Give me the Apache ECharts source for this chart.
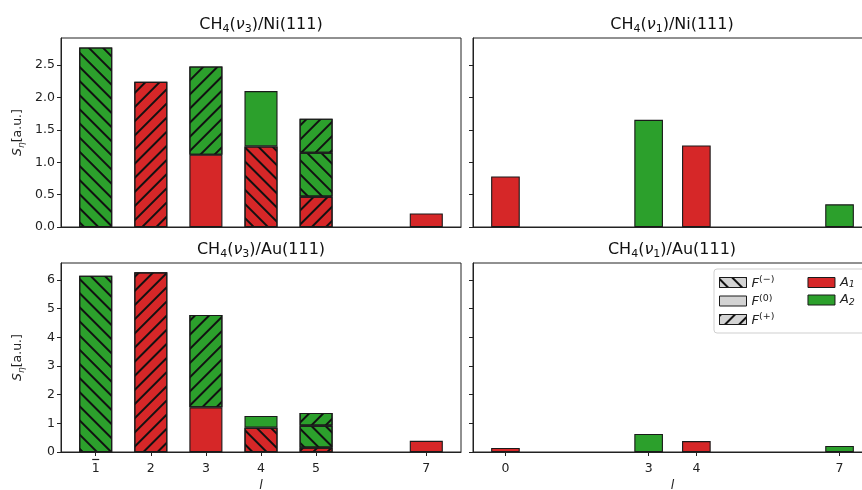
<!DOCTYPE html>
<html>
<head>
<meta charset="utf-8">
<script src="https://cdn.jsdelivr.net/npm/echarts@6/dist/echarts.min.js"></script>
<style>
  html, body { margin: 0; padding: 0; background: #fff; }
  #main { width: 862px; height: 490px; }
</style>
</head>
<body>
<div id="main"></div>
<script>
// x positions (l) and tick labels ('1bar' gets an overbar)
var lNu3 = [1, 2, 3, 4, 5, 7];
var lNu3Labels = ['1bar', '2', '3', '4', '5', '7'];
var lNu1 = [0, 3, 4, 7];
var lNu1Labels = ['0', '3', '4', '7'];

// CH4(v3)/Ni(111): segment heights, null = no bar
var niNu3A1Minus = [null, null, null, 1.245, null, null];
var niNu3A1Zero  = [null, null, 1.116, null, null, 0.21];
var niNu3A1Plus  = [null, 2.242, null, null, 0.468, null];
var niNu3A2Minus = [2.773, null, null, null, 0.679, null];
var niNu3A2Zero  = [null, null, null, 0.855, null, null];
var niNu3A2Plus  = [null, null, 1.364, null, 0.525, null];

// CH4(v1)/Ni(111)
var niNu1A1 = [0.78, null, 1.26, null];
var niNu1A2 = [null, 1.656, null, 0.35];

// CH4(v3)/Au(111)
var auNu3A1Minus = [null, null, null, 0.85, null, null];
var auNu3A1Zero  = [null, null, 1.56, null, null, 0.39];
var auNu3A1Plus  = [null, 6.27, null, null, 0.15, null];
var auNu3A2Minus = [6.15, null, null, null, 0.77, null];
var auNu3A2Zero  = [null, null, null, 0.41, null, null];
var auNu3A2Plus  = [null, null, 3.22, null, 0.44, null];

// CH4(v1)/Au(111)
var auNu1A1 = [0.14, null, 0.38, null];
var auNu1A2 = [null, 0.63, null, 0.21];

var yTicksTop = [0, 0.5, 1, 1.5, 2, 2.5];
var yTicksBottom = [0, 1, 2, 3, 4, 5, 6];

var RED = '#d62728', GREEN = '#2ca02c', GREY = '#d3d3d3';
var FONT = 'DejaVu Sans';

var myChart = echarts.init(document.getElementById('main'), null, { renderer: 'canvas' });

function hatch(dir) {
  if (!dir) return null;
  return {
    symbol: 'rect', symbolSize: 1,
    dashArrayX: [1, 0], dashArrayY: [1.2, 8],
    rotation: dir === '-' ? Math.PI / 4 : -Math.PI / 4,
    color: '#111'
  };
}

function bars(name, idx, xs, vals, color, dir, bw) {
  // value first so that ECharts stacks the y dimension (both axes are value axes)
  var d = xs.map(function (x, i) { return [vals[i] == null ? '-' : vals[i], x]; });
  var st = { color: color, borderColor: '#1a1a1a', borderWidth: 1.1 };
  var dc = hatch(dir);
  if (dc) st.decal = dc;
  return {
    name: name, type: 'bar', xAxisIndex: idx, yAxisIndex: idx,
    stack: 'g' + idx, barWidth: bw, data: d, itemStyle: st,
    encode: { x: 1, y: 0 },
    emphasis: { disabled: true }, animation: false
  };
}

// bar width = 0.6 in l units
var bwL = 0.6 * 400 / (7.63 - 0.37);
var bwR = 0.6 * 399 / (7.68 + 0.68);

var series = [
  bars('A1', 0, lNu3, niNu3A1Zero, RED, null, bwL),
  bars('A1-', 0, lNu3, niNu3A1Minus, RED, '-', bwL),
  bars('A1+', 0, lNu3, niNu3A1Plus, RED, '+', bwL),
  bars('A2-', 0, lNu3, niNu3A2Minus, GREEN, '-', bwL),
  bars('A2', 0, lNu3, niNu3A2Zero, GREEN, null, bwL),
  bars('A2+', 0, lNu3, niNu3A2Plus, GREEN, '+', bwL),
  bars('A1', 1, lNu1, niNu1A1, RED, null, bwR),
  bars('A2', 1, lNu1, niNu1A2, GREEN, null, bwR),
  bars('A1', 2, lNu3, auNu3A1Zero, RED, null, bwL),
  bars('A1-', 2, lNu3, auNu3A1Minus, RED, '-', bwL),
  bars('A1+', 2, lNu3, auNu3A1Plus, RED, '+', bwL),
  bars('A2-', 2, lNu3, auNu3A2Minus, GREEN, '-', bwL),
  bars('A2', 2, lNu3, auNu3A2Zero, GREEN, null, bwL),
  bars('A2+', 2, lNu3, auNu3A2Plus, GREEN, '+', bwL),
  bars('A1', 3, lNu1, auNu1A1, RED, null, bwR),
  bars('A2', 3, lNu1, auNu1A2, GREEN, null, bwR),
  // legend-only entries for the hatch key
  bars('F-', 3, [], [], GREY, '-', bwR),
  bars('F0', 3, [], [], GREY, null, bwR),
  bars('F+', 3, [], [], GREY, '+', bwR)
];

// right-hand panels run past the canvas edge, as in the original figure
var grids = [
  { left: 61, top: 38, width: 400, height: 189 },
  { left: 473, top: 38, width: 399, height: 189 },
  { left: 61, top: 263, width: 400, height: 189 },
  { left: 473, top: 263, width: 399, height: 189 }
].map(function (g) {
  g.show = true; g.borderColor = '#222'; g.borderWidth = 1; g.backgroundColor = '#fff';
  g.outerBoundsMode = 'none'; g.containLabel = false;
  return g;
});

function xAxis(idx, min, max, ticks, labels, bottom) {
  return {
    type: 'value', gridIndex: idx, min: min, max: max,
    splitLine: { show: false },
    axisLine: { show: true, onZero: false, lineStyle: { color: '#222', width: 1 } },
    axisTick: { show: bottom, customValues: ticks, length: 4, lineStyle: { color: '#222' } },
    axisLabel: {
      show: bottom, customValues: ticks, margin: 6,
      color: '#222', fontFamily: FONT, fontSize: 12.5,
      formatter: function (v) {
        var i = ticks.indexOf(v);
        if (i < 0) return '';
        var s = labels[i];
        if (s === '1bar') return '{o| }\n{n|1}';
        return '{z| }\n{n|' + s + '}';
      },
      rich: {
        o: { width: 7, height: 1.2, lineHeight: 3, fontSize: 1, backgroundColor: '#222', align: 'center' },
        z: { lineHeight: 3, fontSize: 1 },
        n: { fontFamily: FONT, fontSize: 12.5, color: '#222', lineHeight: 15 }
      }
    },
    name: bottom ? '{i|l}' : '', nameLocation: 'middle', nameGap: 27,
    nameTextStyle: { rich: { i: { fontFamily: FONT, fontStyle: 'italic', fontSize: 12.5, color: '#222' } } }
  };
}

function yAxis(idx, max, ticks, digits, showLabel) {
  return {
    type: 'value', gridIndex: idx, min: 0, max: max,
    splitLine: { show: false },
    axisLine: { show: true, onZero: false, lineStyle: { color: '#222', width: 1 } },
    axisTick: { show: true, customValues: ticks, length: 4, lineStyle: { color: '#222' } },
    axisLabel: {
      show: showLabel, customValues: ticks, margin: 6,
      color: '#222', fontFamily: FONT, fontSize: 12.5,
      formatter: function (v) { return v.toFixed(digits); }
    },
    name: showLabel ? '{i|S}{sub|\u03b7}{t|[a.u.]}' : '',
    nameLocation: 'middle', nameGap: 35, nameRotate: 90,
    nameTextStyle: {
      rich: {
        i: { fontFamily: FONT, fontStyle: 'italic', fontSize: 12.5, color: '#222', lineHeight: 16, verticalAlign: 'middle' },
        sub: { fontFamily: FONT, fontStyle: 'italic', fontSize: 9, color: '#222', lineHeight: 9, verticalAlign: 'bottom' },
        t: { fontFamily: FONT, fontSize: 12.5, color: '#222', lineHeight: 16, verticalAlign: 'middle' }
      }
    }
  };
}

var titleRich = {
  m: { fontFamily: FONT, fontSize: 16, color: '#111', lineHeight: 20, verticalAlign: 'middle' },
  g: { fontFamily: FONT, fontSize: 16, fontStyle: 'italic', color: '#111', lineHeight: 20, verticalAlign: 'middle' },
  s: { fontFamily: FONT, fontSize: 11, color: '#111', lineHeight: 12, verticalAlign: 'bottom' }
};
function title(n, surf, cx, top) {
  return {
    text: '{m|CH}{s|4}{m|(}{g|\u03bd}{s|' + n + '}{m|)/' + surf + '(111)}',
    left: cx, top: top, textAlign: 'center', padding: 0,
    textStyle: { fontWeight: 'normal', rich: titleRich }
  };
}

var legendNames = {
  'F-': '{i|F}{s|(\u2212)}',
  'F0': '{i|F}{s|(0)}',
  'F+': '{i|F}{s|(+)}',
  'A1': '{a|A}{b|1}',
  'A2': '{a|A}{b|2}'
};

myChart.setOption({
  backgroundColor: '#fff',
  animation: false,
  title: [
    title('3', 'Ni', 261, 15),
    title('1', 'Ni', 672, 15),
    title('3', 'Au', 261, 240),
    title('1', 'Au', 672, 240)
  ],
  grid: grids,
  xAxis: [
    xAxis(0, 0.37, 7.63, lNu3, lNu3Labels, false),
    xAxis(1, -0.68, 7.68, lNu1, lNu1Labels, false),
    xAxis(2, 0.37, 7.63, lNu3, lNu3Labels, true),
    xAxis(3, -0.68, 7.68, lNu1, lNu1Labels, true)
  ],
  yAxis: [
    yAxis(0, 2.919, yTicksTop, 1, true),
    yAxis(1, 2.919, yTicksTop, 1, false),
    yAxis(2, 6.594, yTicksBottom, 0, true),
    yAxis(3, 6.594, yTicksBottom, 0, false)
  ],
  legend: {
    data: ['F-', 'F0', 'F+', 'A1', 'A2'],
    orient: 'vertical', left: 714, top: 269, height: 58,
    itemWidth: 27, itemHeight: 10, itemGap: 3.5,
    icon: 'rect', selectedMode: false,
    padding: [6, 40, 6, 5],
    backgroundColor: '#fff', borderColor: '#cfcfcf', borderWidth: 1, borderRadius: 3,
    itemStyle: { borderColor: '#1a1a1a', borderWidth: 1 },
    formatter: function (n) { return legendNames[n]; },
    textStyle: {
      rich: {
        i: { fontFamily: FONT, fontStyle: 'italic', fontSize: 13, color: '#222', lineHeight: 15, verticalAlign: 'bottom' },
        s: { fontFamily: FONT, fontSize: 9.5, color: '#222', lineHeight: 10, verticalAlign: 'top', width: 45 },
        a: { fontFamily: FONT, fontStyle: 'italic', fontSize: 13, color: '#222', lineHeight: 15, verticalAlign: 'middle' },
        b: { fontFamily: FONT, fontStyle: 'italic', fontSize: 9.5, color: '#222', lineHeight: 9, verticalAlign: 'bottom' }
      }
    }
  },
  series: series
});
</script>
</body>
</html>
